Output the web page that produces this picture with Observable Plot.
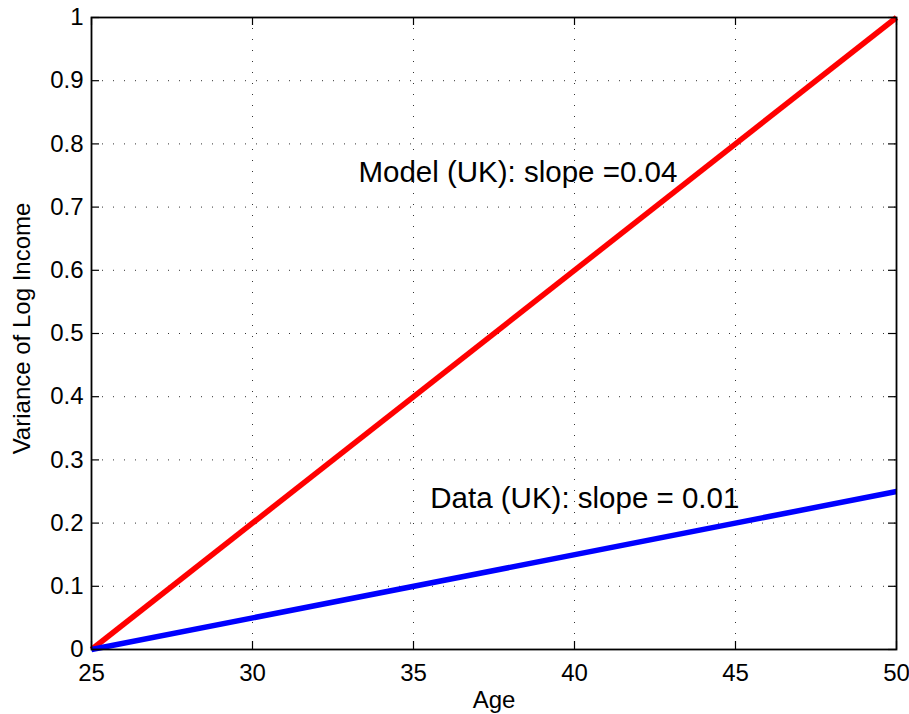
<!DOCTYPE html>
<html><head><meta charset="utf-8">
<script src="https://cdn.jsdelivr.net/npm/d3@7"></script>
<script src="https://cdn.jsdelivr.net/npm/@observablehq/plot@0.6"></script>
<style>body{margin:0;background:#fff}</style>
</head><body><div id="chart"></div>
<script>
const ages = [25, 50];
const modelVar = [0, 1];
const dataVar = [0, 0.25];
const xTicks = [25, 30, 35, 40, 45, 50];
const yTicks = [0, 0.1, 0.2, 0.3, 0.4, 0.5, 0.6, 0.7, 0.8, 0.9, 1];
const yTickLabels = ["0", "0.1", "0.2", "0.3", "0.4", "0.5", "0.6", "0.7", "0.8", "0.9", "1"];
const annotations = [
  {age: 33.29, v: 0.755, text: "Model (UK): slope =0.04"},
  {age: 35.52, v: 0.239, text: "Data (UK): slope = 0.01"}
];
const xLabel = "Age";
const yLabel = "Variance of Log Income";

const W = 909, H = 714, mL = 91, mR = 13, mT = 17, mB = 65;
const fw = W - mL - mR, fh = H - mT - mB, tk = 8;

const modelRows = ages.map((a, i) => ({age: a, v: modelVar[i]}));
const dataRows = ages.map((a, i) => ({age: a, v: dataVar[i]}));

const chart = Plot.plot({
  width: W, height: H,
  marginLeft: mL, marginRight: mR, marginTop: mT, marginBottom: mB,
  style: {fontFamily: "'Liberation Sans', Arial, Helvetica, sans-serif", background: "white", color: "black"},
  x: {domain: [25, 50]},
  y: {domain: [0, 1]},
  marks: [
    Plot.ruleX(xTicks.slice(1, -1), {x: d => d, stroke: "#333", strokeWidth: 1, strokeDasharray: "1,10"}),
    Plot.ruleY(yTicks.slice(1, -1), {y: d => d, stroke: "#333", strokeWidth: 1, strokeDasharray: "1,10"}),
    Plot.tickX(xTicks, {x: d => d, insetTop: fh - tk, stroke: "black", strokeWidth: 1.2}),
    Plot.tickX(xTicks, {x: d => d, insetBottom: fh - tk, stroke: "black", strokeWidth: 1.2}),
    Plot.tickY(yTicks, {y: d => d, insetRight: fw - tk, stroke: "black", strokeWidth: 1.2}),
    Plot.tickY(yTicks, {y: d => d, insetLeft: fw - tk, stroke: "black", strokeWidth: 1.2}),
    Plot.line(modelRows, {x: "age", y: "v", stroke: "#ff0000", strokeWidth: 5.5, strokeLinecap: "butt"}),
    Plot.line(dataRows, {x: "age", y: "v", stroke: "#0000ff", strokeWidth: 5.5, strokeLinecap: "butt"}),
    Plot.frame({stroke: "black", strokeWidth: 1.8}),
    Plot.axisX({ticks: xTicks, tickSize: 0, tickPadding: 14, fontSize: 24, label: null, tickFormat: d => String(d)}),
    Plot.axisY({ticks: yTicks, tickSize: 0, tickPadding: 8, fontSize: 24, label: null, tickFormat: d => yTickLabels[yTicks.indexOf(d)]}),
    Plot.text(annotations, {x: "age", y: "v", text: "text", textAnchor: "start", lineAnchor: "middle", fontSize: 29.5, fill: "black"}),
    Plot.text([xLabel], {text: d => d, frameAnchor: "bottom", textAnchor: "middle", dy: 41, lineAnchor: "top", fontSize: 24, fill: "black"}),
    Plot.text([yLabel], {text: d => d, frameAnchor: "left", textAnchor: "middle", rotate: -90, dx: -62, dy: -5, lineAnchor: "bottom", fontSize: 24, fill: "black"})
  ]
});
document.getElementById("chart").appendChild(chart);
</script>
</body></html>
